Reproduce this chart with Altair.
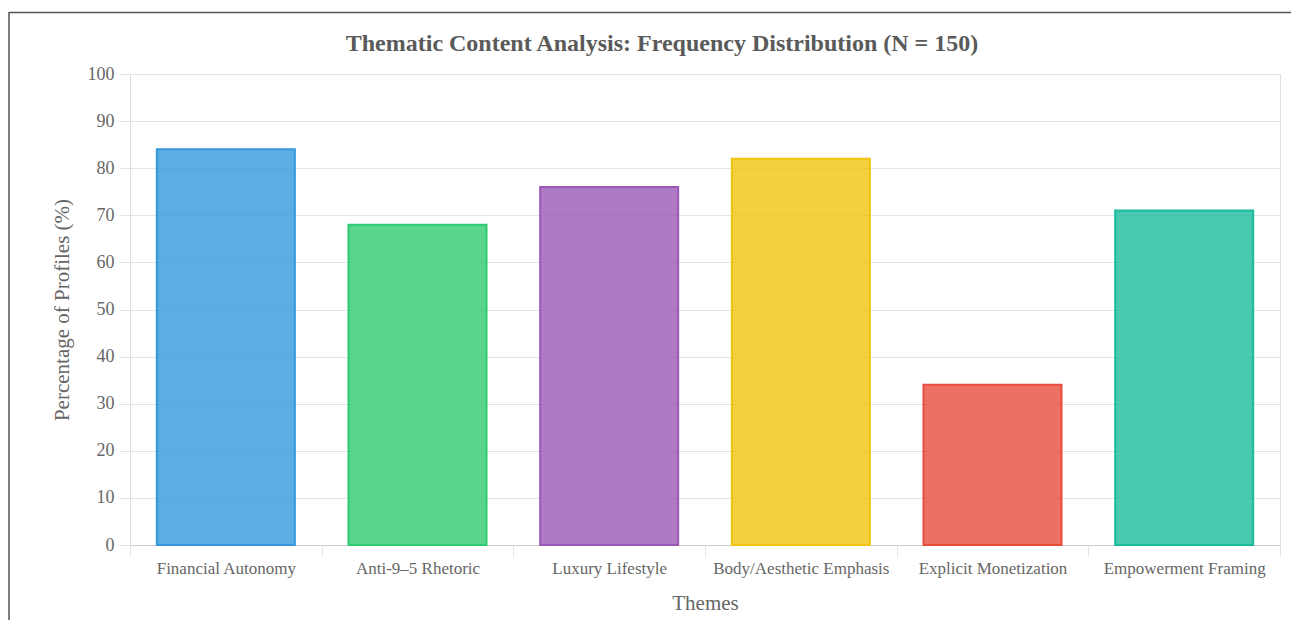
import altair as alt
import pandas as pd

themes = ["Financial Autonomy", "Anti-9\u20135 Rhetoric", "Luxury Lifestyle",
          "Body/Aesthetic Emphasis", "Explicit Monetization", "Empowerment Framing"]
percentages = [84, 68, 76, 82, 34, 71]
colors = ["#3498db", "#2ecc71", "#9b59b6", "#f1c40f", "#e74c3c", "#1abc9c"]
y_ticks = list(range(0, 101, 10))
title_text = "Thematic Content Analysis: Frequency Distribution (N = 150)"

df = pd.DataFrame({"Theme": themes, "Percentage": percentages, "Color": colors})
one = pd.DataFrame({"t": [title_text]})

FONT = "Liberation Serif"
GRID = "#e4e4e4"

bars = alt.Chart(df).mark_bar(width={"band": 0.72}, fillOpacity=0.8, strokeWidth=2).encode(
    x=alt.X("Theme:N", sort=themes, title="Themes",
            scale=alt.Scale(paddingInner=0, paddingOuter=0),
            axis=alt.Axis(tickBand="extent", labelAngle=0, labelFontSize=17,
                          labelColor="#666", labelFont=FONT, labelPadding=4,
                          tickSize=11, tickColor=GRID, gridColor=GRID,
                          domainColor="#cfcfcf", titleFontSize=21, titleColor="#666",
                          titleFont=FONT, titleFontWeight="normal", titlePadding=16)),
    y=alt.Y("Percentage:Q", scale=alt.Scale(domain=[0, 100]),
            title="Percentage of Profiles (%)",
            axis=alt.Axis(values=y_ticks, labelFontSize=18, labelColor="#666",
                          labelFont=FONT, labelPadding=5, tickSize=11,
                          tickColor=GRID, gridColor=GRID, domain=False,
                          titleFontSize=21, titleColor="#666", titleFont=FONT,
                          titleFontWeight="normal", titlePadding=15)),
    fill=alt.Fill("Color:N", scale=None),
    stroke=alt.Stroke("Color:N", scale=None),
)

title = alt.Chart(one).mark_text(
    font=FONT, fontSize=24, fontWeight="bold", color="#5a5a5a",
    align="center", baseline="middle").encode(
    x=alt.value(532), y=alt.value(-30), text="t:N")

frame_top = alt.Chart(one).mark_rule(color="#555", strokeWidth=1.5).encode(
    x=alt.value(-121), x2=alt.value(1170), y=alt.value(-61.5))
frame_left = alt.Chart(one).mark_rule(color="#555", strokeWidth=1.5).encode(
    x=alt.value(-121), y=alt.value(-62), y2=alt.value(560))

chart = alt.layer(bars, title, frame_top, frame_left).properties(
    width=1150, height=471,
    autosize=alt.AutoSizeParams(type="none"),
    padding={"left": 130, "top": 74, "right": 11, "bottom": 75},
).configure_view(stroke=None).configure(background="white")

chart.save("out.html", embed_options={"renderer": "svg", "actions": False})
